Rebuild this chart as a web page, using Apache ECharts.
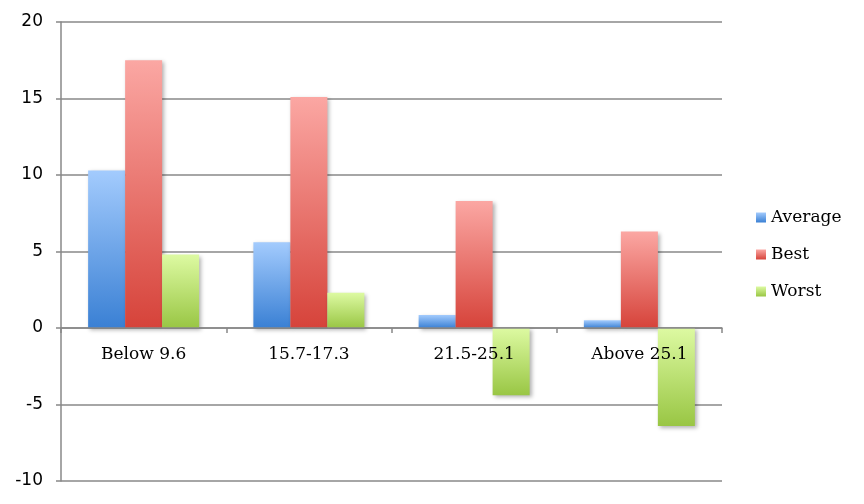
<!DOCTYPE html>
<html>
<head>
<meta charset="utf-8">
<script src="https://cdn.jsdelivr.net/npm/echarts@6/dist/echarts.min.js"></script>
<style>
  html, body { margin: 0; padding: 0; background: #fff; }
  #chart { width: 864px; height: 504px; }
</style>
</head>
<body>
<div id="chart"></div>
<script>
// values
var categories = ['Below 9.6', '15.7-17.3', '21.5-25.1', 'Above 25.1'];
var average = [10.3, 5.6, 0.85, 0.5];
var best = [17.5, 15.1, 8.3, 6.3];
var worst = [4.8, 2.3, -4.4, -6.4];

var myChart = echarts.init(document.getElementById('chart'));

function grad(top, bottom) {
    return new echarts.graphic.LinearGradient(0, 0, 0, 1, [
        {offset: 0, color: top},
        {offset: 1, color: bottom}
    ]);
}

function barSeries(name, data, top, bottom) {
    return {
        name: name,
        type: 'bar',
        data: data,
        barWidth: 37,
        barGap: '0%',
        itemStyle: {
            color: grad(top, bottom),
            shadowColor: 'rgba(0,0,0,0.3)',
            shadowBlur: 4,
            shadowOffsetX: 2,
            shadowOffsetY: 2
        }
    };
}

var option = {
    animation: false,
    grid: { left: 61, right: 142, top: 22, bottom: 23, outerBoundsMode: 'none' },
    legend: {
        orient: 'vertical',
        left: 751,
        top: 204,
        itemWidth: 10,
        itemHeight: 10,
        itemGap: 20,
        icon: 'rect',
        textStyle: { fontFamily: 'DejaVu Serif', fontSize: 17, color: '#000' },
        data: ['Average', 'Best', 'Worst']
    },
    xAxis: {
        type: 'category',
        data: categories,
        position: 'bottom',
        offset: -153,
        z: 5,
        axisLine: { onZero: false, lineStyle: { color: '#888', width: 1.5 } },
        axisTick: { show: true, length: 5, lineStyle: { color: '#888', width: 1.5 } },
        axisLabel: { fontFamily: 'DejaVu Serif', fontSize: 17, color: '#000', margin: 18 }
    },
    yAxis: {
        type: 'value',
        min: -10,
        max: 20,
        interval: 5,
        axisLine: { show: true, lineStyle: { color: '#888', width: 1.5 } },
        axisTick: { show: true, length: 5, lineStyle: { color: '#888', width: 1.5 } },
        splitLine: { lineStyle: { color: '#888', width: 1.5 } },
        axisLabel: { fontFamily: 'DejaVu Sans', fontSize: 17, color: '#000', margin: 18 }
    },
    series: [
        barSeries('Average', average, '#a3cbfd', '#3a80d4'),
        barSeries('Best', best, '#fba7a3', '#d6433a'),
        barSeries('Worst', worst, '#ddfaa2', '#99c644')
    ]
};

myChart.setOption(option);
</script>
</body>
</html>
